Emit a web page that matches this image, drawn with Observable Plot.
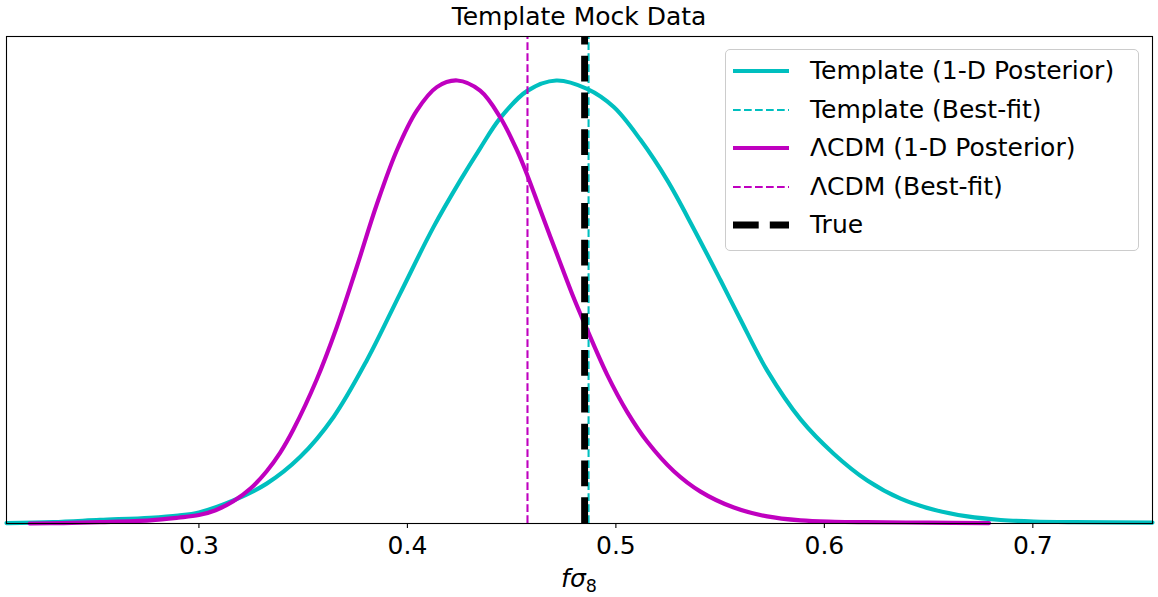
<!DOCTYPE html>
<html>
<head>
<meta charset="utf-8">
<script src="https://cdn.jsdelivr.net/npm/d3@7"></script>
<script src="https://cdn.jsdelivr.net/npm/@observablehq/plot@0.6"></script>
<style>
  html, body { margin: 0; padding: 0; background: white; }
  #wrap { position: relative; width: 1158px; height: 597px; font-family: "DejaVu Sans", sans-serif; color: black; }
  #title { height: 30px; box-sizing: border-box; padding-top: 2px; line-height: 30px; font-size: 25px; text-align: center; white-space: nowrap; }
  #legend { position: absolute; left: 725px; top: 49px; width: 414px; height: 202px; box-sizing: border-box;
            border: 1px solid #cccccc; border-radius: 5px; background: rgba(255,255,255,0.8); padding-top: 2px; }
  .row { display: flex; align-items: center; height: 38.5px; padding-left: 7px; }
  .row svg { display: block; margin-right: 21px; overflow: visible; }
  .row span { font-size: 25px; line-height: 38.5px; white-space: nowrap; }
</style>
</head>
<body>
<div id="wrap">
  <div id="title">Template Mock Data</div>
  <div id="chart"></div>
  <div id="legend"></div>
</div>
<script>
// ---- Data ----
const tplX = [0.2077, 0.23, 0.2525, 0.2765, 0.29, 0.30, 0.3165, 0.3325, 0.3485, 0.3645, 0.3805, 0.3965, 0.4125, 0.4253, 0.4349, 0.4445, 0.4573, 0.4714, 0.4862, 0.499, 0.5118, 0.5246, 0.5374, 0.5502, 0.5598, 0.5726, 0.5886, 0.6046, 0.6206, 0.6366, 0.6526, 0.6686, 0.6846, 0.7005, 0.72, 0.7574];
const tplY = [0.001, 0.003, 0.008, 0.013, 0.018, 0.025, 0.052, 0.090, 0.150, 0.240, 0.368, 0.519, 0.669, 0.774, 0.847, 0.915, 0.976, 1.000, 0.981, 0.940, 0.866, 0.775, 0.665, 0.549, 0.460, 0.345, 0.235, 0.157, 0.097, 0.056, 0.031, 0.016, 0.008, 0.0045, 0.003, 0.002];

const lcdmX = [0.2188, 0.235, 0.2525, 0.2765, 0.29, 0.30, 0.308, 0.3165, 0.325, 0.3325, 0.339, 0.3453, 0.3565, 0.3661, 0.3757, 0.3853, 0.3949, 0.4045, 0.4141, 0.4239, 0.4349, 0.4445, 0.4526, 0.4577, 0.4637, 0.4718, 0.4797, 0.4849, 0.4958, 0.5054, 0.515, 0.5278, 0.5406, 0.5566, 0.5726, 0.5886, 0.605, 0.62, 0.65, 0.679];
const lcdmY = [0.000, 0.001, 0.003, 0.007, 0.013, 0.019, 0.030, 0.050, 0.080, 0.118, 0.160, 0.212, 0.325, 0.443, 0.579, 0.720, 0.842, 0.932, 0.985, 1.000, 0.977, 0.917, 0.842, 0.784, 0.708, 0.607, 0.510, 0.452, 0.336, 0.252, 0.185, 0.118, 0.072, 0.036, 0.016, 0.007, 0.004, 0.003, 0.002, 0.001];

const tplBest = 0.4869;
const lcdmBest = 0.4576;
const trueValue = 0.4850;

const xTicks = [0.3, 0.4, 0.5, 0.6, 0.7];
const xDomain = [0.2077, 0.7574];
const yDomain = [0, 1.0993];

const legendLabels = ["Template (1-D Posterior)", "Template (Best-fit)", "ΛCDM (1-D Posterior)", "ΛCDM (Best-fit)", "True"];

// ---- Styles ----
const CYAN = "#00bfbf", MAGENTA = "#bf00bf";
const legendStyles = [
  {stroke: CYAN, width: 4.17, dash: null},
  {stroke: CYAN, width: 2.08, dash: "7.7,3.3"},
  {stroke: MAGENTA, width: 4.17, dash: null},
  {stroke: MAGENTA, width: 2.08, dash: "7.7,3.3"},
  {stroke: "black", width: 6.9, dash: "25.7,11.1"}
];

const tpl = tplX.map((x, i) => ({x, y: tplY[i]}));
const lcdm = lcdmX.map((x, i) => ({x, y: lcdmY[i]}));

const chart = Plot.plot({
  width: 1158,
  height: 567,
  marginTop: 6,
  marginBottom: 74,
  marginLeft: 6,
  marginRight: 6,
  style: {fontFamily: "DejaVu Sans", fontSize: "25px", color: "black", background: "white", overflow: "visible"},
  x: {domain: xDomain},
  y: {domain: yDomain, axis: null},
  marks: [
    Plot.line(tpl, {x: "x", y: "y", stroke: CYAN, strokeWidth: 4.17, curve: "catmull-rom"}),
    Plot.ruleX([tplBest], {x: d => d, y1: yDomain[0], y2: yDomain[1], stroke: CYAN, strokeWidth: 2.08, strokeDasharray: "7.7,3.3"}),
    Plot.line(lcdm, {x: "x", y: "y", stroke: MAGENTA, strokeWidth: 4.17, curve: "catmull-rom"}),
    Plot.ruleX([lcdmBest], {x: d => d, y1: yDomain[0], y2: yDomain[1], stroke: MAGENTA, strokeWidth: 2.08, strokeDasharray: "7.7,3.3"}),
    Plot.ruleX([trueValue], {x: d => d, y1: yDomain[0], y2: yDomain[1], stroke: "black", strokeWidth: 6.9, strokeDasharray: "25.7,11.1"}),
    Plot.frame({stroke: "black", strokeWidth: 1.1}),
    Plot.axisX({ticks: xTicks, tickSize: 5, tickPadding: 8, tickFormat: d3.format(".1f"), label: null, fontSize: 25, strokeWidth: 1.1})
  ]
});
document.getElementById("chart").appendChild(chart);

// axis label f σ_8 (math-style)
const svg = d3.select(chart);
const lab = svg.append("text")
  .attr("x", 579)
  .attr("y", 557)
  .attr("text-anchor", "middle")
  .attr("font-family", "DejaVu Sans")
  .attr("font-size", 25)
  .attr("fill", "black");
lab.append("tspan").attr("font-style", "italic").text("fσ");
lab.append("tspan").attr("font-size", 17.5).attr("dy", 5).text("8");

// legend
const legend = d3.select("#legend");
legendLabels.forEach((label, i) => {
  const s = legendStyles[i];
  const row = legend.append("div").attr("class", "row");
  const sw = row.append("svg").attr("width", 56).attr("height", 10);
  const ln = sw.append("line").attr("x1", 0).attr("x2", 56).attr("y1", 5).attr("y2", 5)
    .attr("stroke", s.stroke).attr("stroke-width", s.width);
  if (s.dash) ln.attr("stroke-dasharray", s.dash);
  row.append("span").text(label);
});
</script>
</body>
</html>
